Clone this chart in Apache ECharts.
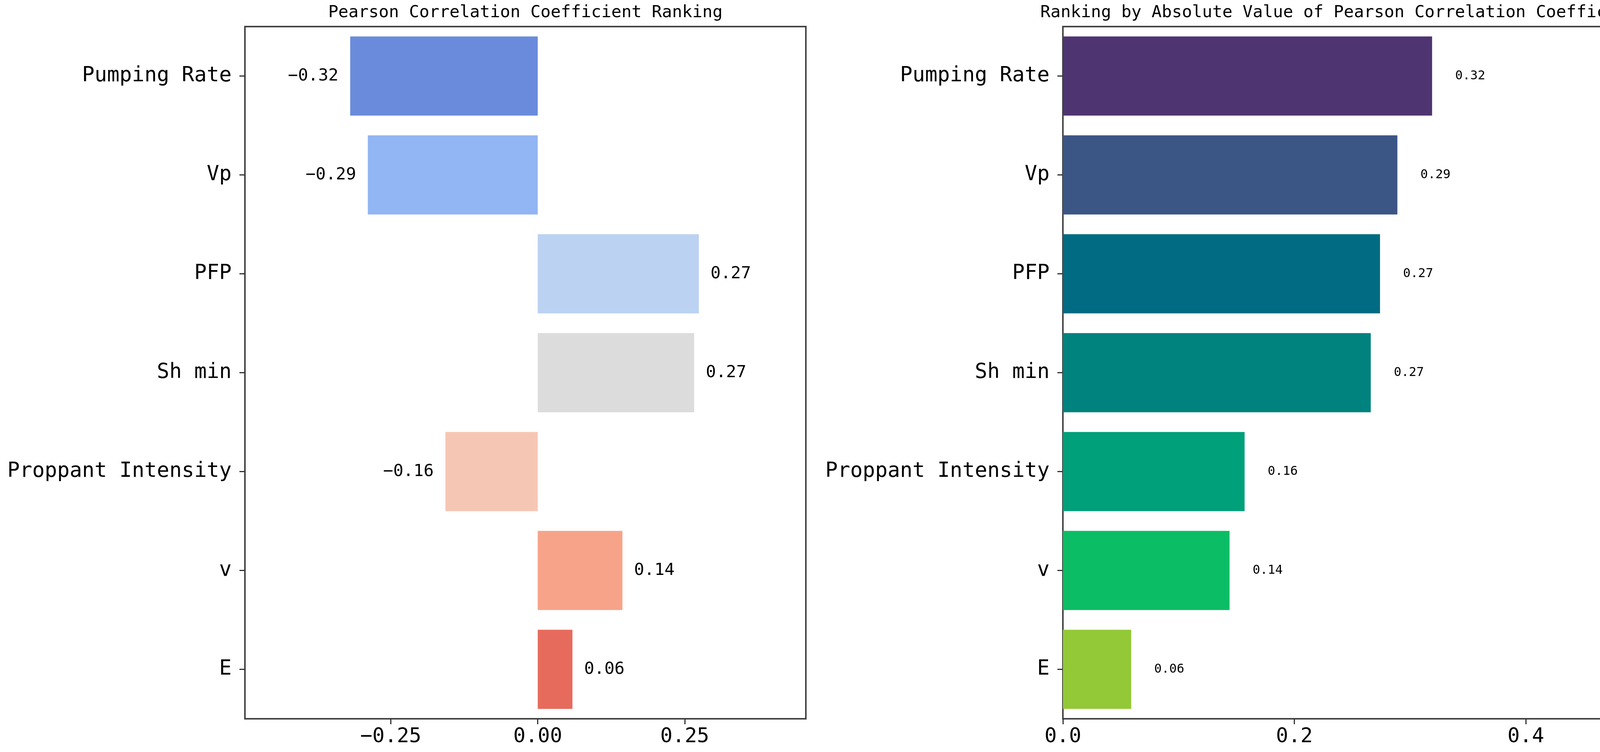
<!DOCTYPE html>
<html>
<head>
<meta charset="utf-8">
<script src="https://cdn.jsdelivr.net/npm/echarts@6/dist/echarts.min.js"></script>
<style>
html,body{margin:0;padding:0;background:#fff;overflow:hidden;}
#main{width:4230px;height:1924px;}
</style>
</head>
<body>
<div id="main"></div>
<script>
// ---- data ----
const categories = ['Pumping Rate', 'Vp', 'PFP', 'Sh min', 'Proppant Intensity', 'v', 'E'];
const pearsonValues = [-0.319, -0.289, 0.274, 0.266, -0.157, 0.144, 0.059];
const absValues = [0.319, 0.289, 0.274, 0.266, 0.157, 0.144, 0.059];
const leftColors = ['#6A8BDB', '#92B5F3', '#BBD2F2', '#DCDCDC', '#F6C6B5', '#F7A389', '#E66B5D'];
const rightColors = ['#4F3472', '#3B5584', '#006B82', '#00827F', '#00A07A', '#0BBD64', '#93C837'];
const leftTicks = [-0.25, 0, 0.25];
const leftTickLabels = ['\u22120.25', '0.00', '0.25'];
const rightTicks = [0, 0.2, 0.4];
const rightTickLabels = ['0.0', '0.2', '0.4'];
const leftTitle = 'Pearson Correlation Coefficient Ranking';
const rightTitle = 'Ranking by Absolute Value of Pearson Correlation Coefficient';

const FONT = '"DejaVu Sans Mono", monospace';

function fmt(v) {
  const s = Math.abs(v).toFixed(2);
  return (v < 0 ? '\u2212' : '') + s;
}

const leftData = pearsonValues.map((v, i) => ({
  value: v,
  itemStyle: { color: leftColors[i] },
  label: { position: v < 0 ? 'left' : 'right' }
}));
const rightData = absValues.map((v, i) => ({
  value: v,
  itemStyle: { color: rightColors[i] }
}));

const chart = echarts.init(document.getElementById('main'));

const gridCommon = { top: 68, bottom: 85, show: true, borderColor: '#444', borderWidth: 4, backgroundColor: 'transparent' };

function xAxisDef(idx, min, max, ticks, labels) {
  return {
    type: 'value', gridIndex: idx, min: min, max: max,
    splitLine: { show: false },
    axisLine: { show: false, onZero: false },
    axisTick: { show: true, inside: false, length: 14, lineStyle: { color: '#333', width: 3 }, customValues: ticks },
    axisLabel: {
      show: true, margin: 20, fontSize: 52, fontFamily: FONT, color: '#000',
      customValues: ticks,
      formatter: function (v) {
        for (let i = 0; i < ticks.length; i++) if (Math.abs(ticks[i] - v) < 1e-9) return labels[i];
        return '';
      }
    }
  };
}
function yAxisDef(idx) {
  return {
    type: 'category', gridIndex: idx, data: categories, inverse: true,
    boundaryGap: true, position: 'left',
    axisLine: { show: false, onZero: false },
    axisTick: { show: true, alignWithLabel: true, inside: false, length: 14, lineStyle: { color: '#333', width: 3 } },
    axisLabel: { margin: 34, fontSize: 53, fontFamily: FONT, color: '#000' },
    splitLine: { show: false }
  };
}

chart.setOption({
  backgroundColor: '#fff',
  animation: false,
  graphic: [
    { type: 'text', x: 1345, y: 33, style: { text: leftTitle, fill: '#000', font: '43px ' + FONT, align: 'center', verticalAlign: 'middle' } },
    { type: 'text', x: 3440, y: 33, style: { text: rightTitle, fill: '#000', font: '43px ' + FONT, align: 'center', verticalAlign: 'middle' } }
  ],
  grid: [
    Object.assign({ left: 627, right: 2167 }, gridCommon),
    Object.assign({ left: 2721, right: 72 }, gridCommon)
  ],
  xAxis: [
    xAxisDef(0, -0.498, 0.456, leftTicks, leftTickLabels),
    xAxisDef(1, 0, 0.485, rightTicks, rightTickLabels)
  ],
  yAxis: [yAxisDef(0), yAxisDef(1)],
  series: [
    {
      type: 'bar', xAxisIndex: 0, yAxisIndex: 0, data: leftData,
      barCategoryGap: '20%',
      label: { show: true, distance: 30, fontSize: 43, fontFamily: FONT, color: '#000', formatter: p => fmt(p.value) }
    },
    {
      type: 'bar', xAxisIndex: 1, yAxisIndex: 1, data: rightData,
      barCategoryGap: '20%',
      label: { show: true, position: 'right', distance: 59, fontSize: 32, fontFamily: FONT, color: '#000', formatter: p => fmt(p.value) }
    }
  ]
});
</script>
</body>
</html>
